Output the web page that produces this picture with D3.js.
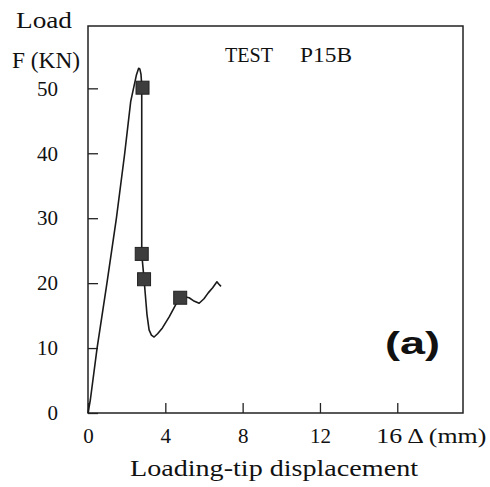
<!DOCTYPE html>
<html>
<head>
<meta charset="utf-8">
<script src="https://cdn.jsdelivr.net/npm/d3@7"></script>
<style>
  body { margin: 0; background: #fff; }
  text { font-family: "Liberation Serif", serif; fill: #111; }
</style>
</head>
<body>
<svg id="chart" width="490" height="487"></svg>
<script>
// load vs loading-tip displacement
let dispMm = [0, 0.12, 0.47, 0.98, 1.47, 1.90, 2.21, 2.50, 2.62, 2.68, 2.74, 2.78, 2.78, 2.90, 3.05, 3.16, 3.28, 3.42, 3.6, 3.85, 4.2, 4.54, 4.77, 5.0, 5.23, 5.45, 5.75, 6.0, 6.22, 6.45, 6.67, 6.75, 6.88];
let loadKN = [0, 2, 10, 20, 30, 40, 48, 52, 53.1, 53, 52.2, 50.5, 24.5, 20.6, 15.2, 12.8, 12.0, 11.7, 12.2, 13.1, 14.8, 16.7, 17.75, 17.9, 17.75, 17.3, 16.9, 17.6, 18.5, 19.3, 20.2, 19.9, 19.5];
// marked points (squares)
let markX = [2.82, 2.78, 2.90, 4.77];
let markY = [50.1, 24.5, 20.6, 17.75];
let xTicks = [0, 4, 8, 12, 16];
let yTicks = [0, 10, 20, 30, 40, 50];

let svg = d3.select("#chart");
let pLeft = 88, pRight = 463, pTop = 26, pBottom = 413;

let x = d3.scaleLinear().domain([0, 19.4]).range([pLeft, pRight]);
let y = d3.scaleLinear().domain([0, 59.6]).range([pBottom, pTop]);

// axes, ticks pointing inward
let xAxis = d3.axisBottom(x).tickValues(xTicks).tickSizeInner(-10).tickSizeOuter(0).tickPadding(15)
    .tickFormat(d => d === 16 ? "" : d);
let gx = svg.append("g").attr("transform", "translate(0," + pBottom + ")").call(xAxis);
let yAxis = d3.axisLeft(y).tickValues(yTicks).tickSizeInner(-10).tickSizeOuter(0).tickPadding(30);
let gy = svg.append("g").attr("transform", "translate(" + pLeft + ",0)").call(yAxis);
[gx, gy].forEach(g => {
    g.select(".domain").remove();
    g.selectAll("line").attr("stroke", "#222").attr("stroke-width", 1.3);
    g.selectAll("text").style("font-family", "Liberation Serif").style("font-size", "21px").attr("fill", "#111");
});

// frame
svg.append("rect").attr("x", pLeft).attr("y", pTop).attr("width", pRight - pLeft).attr("height", pBottom - pTop)
    .attr("fill", "none").attr("stroke", "#222").attr("stroke-width", 1.5);

// curve
let pts = dispMm.map((d, i) => [d, loadKN[i]]);
let line = d3.line().x(d => x(d[0])).y(d => y(d[1]));
svg.append("path").datum(pts).attr("d", line)
    .attr("fill", "none").attr("stroke", "#1a1a1a").attr("stroke-width", 1.6).attr("stroke-linejoin", "round");

// square markers
let sq = 13;
svg.selectAll("rect.mark").data(markX).enter().append("rect").attr("class", "mark")
    .attr("x", d => x(d) - sq / 2).attr("y", (d, i) => y(markY[i]) - sq / 2)
    .attr("width", sq).attr("height", sq)
    .attr("fill", "#3d3d3d").attr("stroke", "#222").attr("stroke-width", 1);

// labels
svg.append("text").attr("x", x(16) - 21).attr("y", pBottom + 30).attr("font-size", 21)
    .attr("textLength", 110).attr("lengthAdjust", "spacingAndGlyphs").text("16 \u0394 (mm)");
svg.append("text").attr("x", 130).attr("y", 476).attr("font-size", 23)
    .attr("textLength", 288).attr("lengthAdjust", "spacingAndGlyphs").text("Loading-tip displacement");
svg.append("text").attr("x", 44).attr("y", 28).attr("font-size", 24).attr("text-anchor", "middle")
    .attr("textLength", 56).attr("lengthAdjust", "spacingAndGlyphs").text("Load");
svg.append("text").attr("x", 46).attr("y", 68).attr("font-size", 24).attr("text-anchor", "middle")
    .attr("textLength", 68).attr("lengthAdjust", "spacingAndGlyphs").text("F (KN)");
svg.append("text").attr("x", 225).attr("y", 61.5).attr("font-size", 20)
    .attr("textLength", 48).attr("lengthAdjust", "spacingAndGlyphs").text("TEST");
svg.append("text").attr("x", 300).attr("y", 61.5).attr("font-size", 20)
    .attr("textLength", 52).attr("lengthAdjust", "spacingAndGlyphs").text("P15B");
svg.append("text").attr("x", 385).attr("y", 354).attr("font-size", 32).attr("font-weight", "bold")
    .style("font-family", "Liberation Sans, Arial, sans-serif")
    .attr("textLength", 55).attr("lengthAdjust", "spacingAndGlyphs").text("(a)");
</script>
</body>
</html>
